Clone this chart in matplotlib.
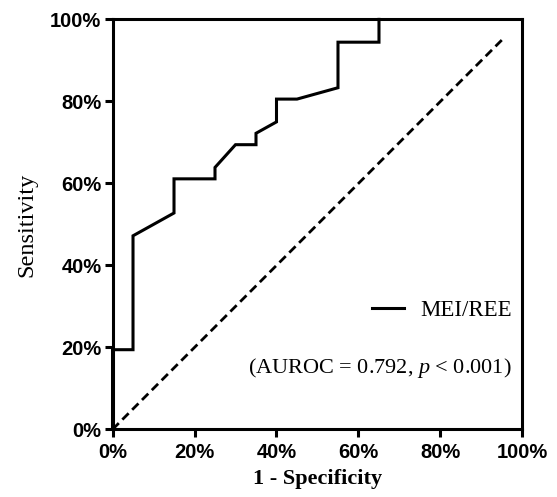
import matplotlib
matplotlib.use("Agg")
import matplotlib.pyplot as plt
from matplotlib.ticker import FuncFormatter

# ROC data (percent)
fpr = [0, 0, 5, 5, 15, 15, 25, 25, 30, 35, 35, 40, 40, 45, 55, 55, 65, 65]
tpr = [0, 19.44, 19.44, 47.22, 52.78, 61.11, 61.11, 63.89, 69.44, 69.44,
       72.22, 75.00, 80.56, 80.56, 83.33, 94.44, 94.44, 100]
ref_x = [0, 95]
ref_y = [0, 95]
ticks = [0, 20, 40, 60, 80, 100]
series_label = "MEI/REE"
auc_text = "(AUROC = 0.792, $\\mathit{p}$ < 0.001)"

plt.rcParams['mathtext.fontset'] = 'custom'
plt.rcParams['mathtext.it'] = 'Liberation Serif:italic'
plt.rcParams['mathtext.rm'] = 'Liberation Serif'

fig = plt.figure(figsize=(5.57, 4.97), dpi=100)
ax = fig.add_axes([0.202, 0.136, 0.736, 0.825])

ax.plot(fpr, tpr, color='black', lw=2.2, solid_joinstyle='miter', label=series_label, clip_on=False)
ax.plot(ref_x, ref_y, color='black', lw=2.0, linestyle=(0, (3.2, 1.8)))

ax.set_xlim(0, 100)
ax.set_ylim(0, 100)
ax.set_xticks(ticks)
ax.set_yticks(ticks)
fmt = FuncFormatter(lambda v, p: f"{int(v)}%")
ax.xaxis.set_major_formatter(fmt)
ax.yaxis.set_major_formatter(fmt)
for s in ax.spines.values():
    s.set_linewidth(2.2)
ax.tick_params(direction='out', length=6, width=2.2)
ax.tick_params(axis='x', pad=4)
ax.tick_params(axis='y', pad=2)
for lab in ax.get_xticklabels() + ax.get_yticklabels():
    lab.set_fontfamily('Liberation Sans')
    lab.set_fontweight('bold')
    lab.set_fontsize(14.5)

ax.set_xlabel("1 - Specificity", fontfamily='Liberation Serif', fontweight='bold', fontsize=16, labelpad=5)
ax.set_ylabel("Sensitivity", fontfamily='Liberation Serif', fontsize=17.5, labelpad=9)

leg = ax.legend(loc='center right', bbox_to_anchor=(1.024, 0.29), frameon=False,
                handlelength=1.4, handletextpad=0.7,
                prop={'family': 'Liberation Serif', 'size': 16.5})
ax.text(0.973, 0.150, auc_text, transform=ax.transAxes, ha='right', va='center',
        fontfamily='Liberation Serif', fontsize=16)

fig.savefig("out.png", dpi=100)
